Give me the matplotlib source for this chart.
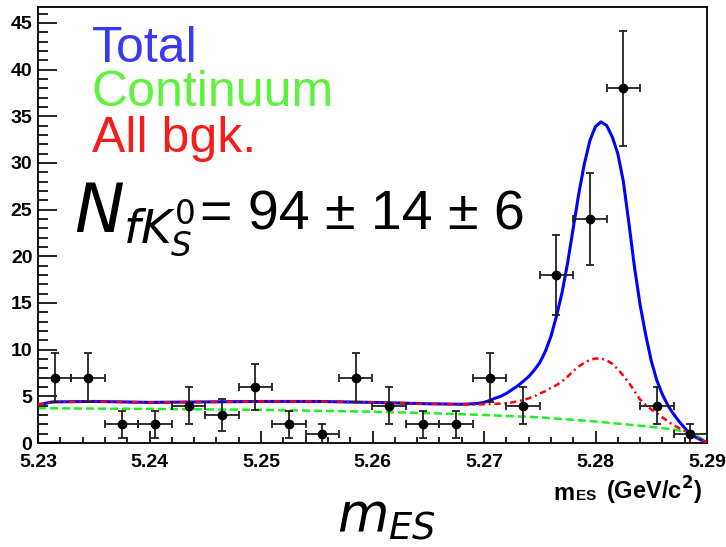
import numpy as np
import matplotlib.pyplot as plt
from matplotlib.ticker import MultipleLocator, FormatStrFormatter

# binned m_ES data (bin width 3 MeV)
bin_centers = [5.2315, 5.2345, 5.2375, 5.2405, 5.2435, 5.2465, 5.2495, 5.2525,
               5.2555, 5.2585, 5.2615, 5.2645, 5.2675, 5.2705, 5.2735, 5.2765,
               5.2795, 5.2825, 5.2855, 5.2885]
counts = [7, 7, 2, 2, 4, 3, 6, 2, 1, 7, 4, 2, 2, 7, 4, 18, 24, 38, 4, 1]
bin_half = 0.0015

# fit curves, sampled
flat_x = [5.2300, 5.2313, 5.2350, 5.2400, 5.2450, 5.2500, 5.2550, 5.2600, 5.2650, 5.2680]
flat_y = [4.10, 4.40, 4.45, 4.35, 4.40, 4.45, 4.45, 4.35, 4.20, 4.15]

peak_x = [5.2690, 5.2695, 5.2700, 5.2705, 5.2710, 5.2715, 5.2720, 5.2725, 5.2730,
          5.2735, 5.2740, 5.2745, 5.2750, 5.2755, 5.2760, 5.2765, 5.2770, 5.2775,
          5.2780, 5.2785, 5.2790, 5.2795, 5.2800, 5.2805, 5.2810, 5.2815, 5.2820,
          5.2825, 5.2830, 5.2835, 5.2840, 5.2845, 5.2850, 5.2855, 5.2860, 5.2865,
          5.2870, 5.2875, 5.2880, 5.2885, 5.2890, 5.2895, 5.2900]
total_peak = [4.20, 4.25, 4.35, 4.55, 4.80, 5.00, 5.30, 5.70, 6.10,
              6.60, 7.10, 7.80, 8.60, 9.80, 11.4, 13.6, 16.1, 19.3,
              23.0, 26.7, 29.9, 32.4, 33.9, 34.4, 34.0, 32.8, 31.0,
              28.0, 23.5, 18.8, 14.8, 11.6, 8.8, 6.7, 5.2, 4.0,
              3.1, 2.3, 1.6, 1.0, 0.6, 0.3, 0.1]
bkg_peak = [4.12, 4.13, 4.15, 4.17, 4.20, 4.22, 4.25, 4.35, 4.45,
            4.60, 4.78, 5.00, 5.30, 5.55, 5.90, 6.20, 6.60, 7.10,
            7.70, 8.20, 8.60, 8.90, 9.05, 9.05, 8.85, 8.50, 7.90,
            7.20, 6.45, 5.55, 4.65, 4.10, 3.60, 3.20, 2.75, 2.30,
            1.90, 1.60, 1.30, 1.00, 0.65, 0.30, 0.10]

cont_x = [5.230, 5.240, 5.250, 5.260, 5.265, 5.270, 5.275, 5.280, 5.2845,
          5.287, 5.2885, 5.2895, 5.2900]
cont_y = [3.72, 3.65, 3.55, 3.35, 3.20, 3.00, 2.75, 2.30, 1.80,
          1.45, 1.05, 0.50, 0.00]

W, H = 726, 547


def px(x, y):
    return x / W, 1 - y / H


fig = plt.figure(figsize=(W / 100, H / 100), dpi=100)
ax = fig.add_axes([38 / W, 1 - 443 / H, 669 / W, 436 / H])

ax.plot(cont_x, cont_y, color='#22ee22', lw=1.8, dashes=(3.2, 1.6), zorder=2)
ax.plot(flat_x + peak_x, flat_y + total_peak, color='#0000ff', lw=2.2, zorder=3)
ax.plot(flat_x + peak_x, flat_y + bkg_peak, color='#ff0000', lw=1.8,
        dashes=(2.5, 1.5, 0.8, 1.5), zorder=4)

ax.errorbar(bin_centers, counts, xerr=bin_half, yerr=np.sqrt(counts), fmt='o',
            color='black', ecolor='#222222', ms=6, elinewidth=1.3,
            capsize=3, capthick=1.3, zorder=5)

ax.set_xlim(5.23, 5.29)
ax.set_ylim(0, 46.7)
ax.xaxis.set_major_locator(MultipleLocator(0.01))
ax.xaxis.set_minor_locator(MultipleLocator(0.002))
ax.xaxis.set_major_formatter(FormatStrFormatter('%.2f'))
ax.yaxis.set_major_locator(MultipleLocator(5))
ax.yaxis.set_minor_locator(MultipleLocator(1))
ax.tick_params(which='both', direction='in', top=False, right=False, width=1.2)
ax.tick_params(axis='y', which='major', length=14, pad=4)
ax.tick_params(axis='y', which='minor', length=7)
ax.tick_params(axis='x', which='major', length=8.5, pad=8)
ax.tick_params(axis='x', which='minor', length=4.5)
for lab in ax.get_xticklabels() + ax.get_yticklabels():
    lab.set_fontfamily('Liberation Sans')
    lab.set_fontweight('bold')
    lab.set_fontsize(14)
for sp in ax.spines.values():
    sp.set_linewidth(1.3)

# legend words
leg_font = dict(family='Liberation Sans', fontsize=36, va='baseline', ha='left')
fig.text(*px(92, 62), 'Total', color='#3838f5', **leg_font)
fig.text(*px(92, 106), 'Continuum', color='#5ef23c', **leg_font)
fig.text(*px(92, 152), 'All bgk.', color='#f51c1c', **leg_font)

# yield
fig.text(*px(74, 232), r'$N_{fK^0_S}$', fontsize=48, va='baseline', ha='left')
fig.text(*px(200, 230), '= 94 ± 14 ± 6', family='Liberation Sans', fontsize=40,
         va='baseline', ha='left')

# axis titles
fig.text(*px(553, 500), 'm', family='Liberation Sans', fontweight='bold',
         fontsize=17, va='baseline')
fig.text(*px(576, 500), 'ES', family='Liberation Sans', fontweight='bold',
         fontsize=11, va='baseline')
fig.text(*px(606, 500), r'(GeV/c$^{\mathbf{2}}$)', family='Liberation Sans',
         fontweight='bold', fontsize=17, va='baseline')
fig.text(*px(337, 532), r'$m_{ES}$', fontsize=38, va='baseline', ha='left')

fig.savefig('out.png', dpi=100)
